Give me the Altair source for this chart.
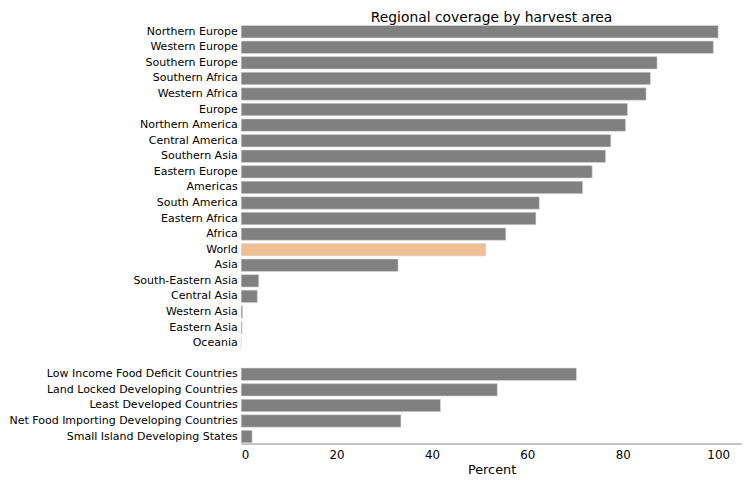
import altair as alt
import pandas as pd

regions = [
    "Northern Europe", "Western Europe", "Southern Europe", "Southern Africa",
    "Western Africa", "Europe", "Northern America", "Central America",
    "Southern Asia", "Eastern Europe", "Americas", "South America",
    "Eastern Africa", "Africa", "World", "Asia", "South-Eastern Asia",
    "Central Asia", "Western Asia", "Eastern Asia", "Oceania", " ",
    "Low Income Food Deficit Countries", "Land Locked Developing Countries",
    "Least Developed Countries", "Net Food Importing Developing Countries",
    "Small Island Developing States",
]
percent = [
    100.0, 99.0, 87.2, 85.8, 84.9, 81.0, 80.6, 77.5, 76.4, 73.6, 71.6, 62.5,
    61.8, 55.5, 51.3, 32.9, 3.7, 3.4, 0.3, 0.2, 0.0, None,
    70.3, 53.7, 41.8, 33.5, 2.3,
]
highlight = ["World"]

df = pd.DataFrame({"region": regions, "percent": percent})
df["group"] = ["hl" if r in highlight else "base" for r in regions]

chart = (
    alt.Chart(df)
    .mark_bar(stroke="#d9d9d9", strokeWidth=0.6)
    .encode(
        x=alt.X(
            "percent:Q",
            title="Percent",
            scale=alt.Scale(domain=[0, 105], nice=False, zero=True),
            axis=alt.Axis(values=[0, 20, 40, 60, 80, 100], grid=False, ticks=False,
                          domainColor="#888888", labelPadding=6, titlePadding=3),
        ),
        y=alt.Y(
            "region:N",
            sort=regions,
            title=None,
            scale=alt.Scale(paddingInner=0.2, paddingOuter=0.05),
            axis=alt.Axis(domain=False, ticks=False, labelPadding=4, labelLimit=300,
                          labelFontSize=11.15),
        ),
        color=alt.Color(
            "group:N",
            scale=alt.Scale(domain=["base", "hl"], range=["#808080", "#EFBF94"]),
            legend=None,
        ),
    )
    .properties(
        width=507,
        height=424,
        padding=0,
        title=alt.TitleParams("Regional coverage by harvest area", fontSize=14,
                              fontWeight="normal", font="DejaVu Sans", offset=0),
    )
    .configure_view(stroke=None)
    .configure_axis(labelFont="DejaVu Sans", titleFont="DejaVu Sans",
                    labelFontSize=12, titleFontSize=13, titleFontWeight="normal",
                    labelColor="black", titleColor="black")
)

chart.save("out.html", embed_options={"renderer": "svg", "actions": False})
